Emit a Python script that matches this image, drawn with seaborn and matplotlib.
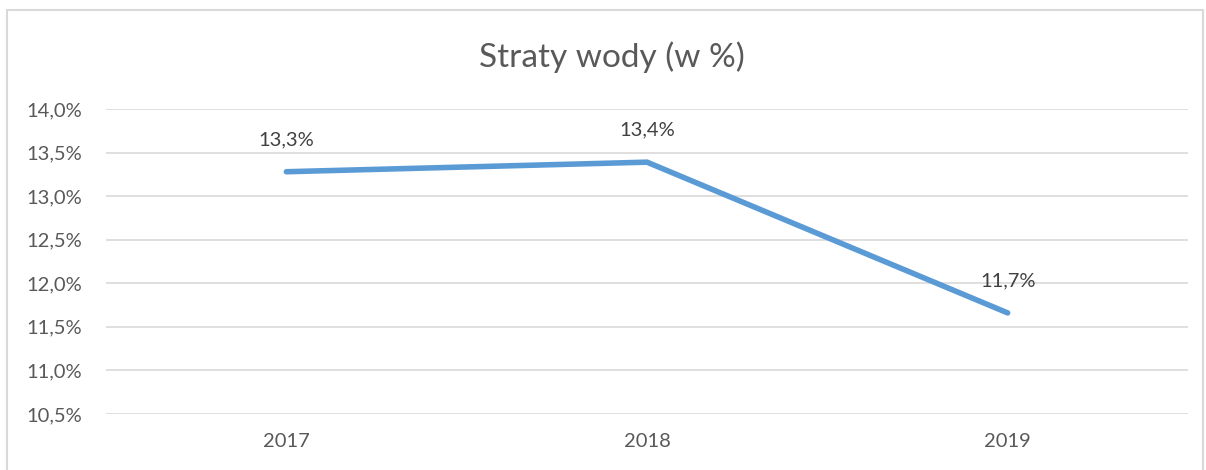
import matplotlib
matplotlib.use("Agg")
import matplotlib.pyplot as plt
import seaborn as sns
import pandas as pd
from matplotlib.patches import Rectangle

years = ["2017", "2018", "2019"]
losses = [13.28, 13.39, 11.66]
labels = ["13,3%", "13,4%", "11,7%"]
yticks = [10.5, 11.0, 11.5, 12.0, 12.5, 13.0, 13.5, 14.0]
ytick_labels = ["10,5%", "11,0%", "11,5%", "12,0%", "12,5%", "13,0%", "13,5%", "14,0%"]
title = "Straty wody (w %)"

sns.set_theme(style="white")
plt.rcParams['font.family'] = ['Lato', 'DejaVu Sans']

df = pd.DataFrame({"year": years, "loss": losses})

fig = plt.figure(figsize=(12.06, 4.70), dpi=100)
W, H = 1206, 470
ax = fig.add_axes([106 / W, 1 - 414 / H, (1188 - 106) / W, (414 - 109) / H])

sns.lineplot(data=df, x="year", y="loss", ax=ax, color="#5B9BD5", linewidth=4,
             solid_capstyle="round", solid_joinstyle="miter", sort=False)

ax.set_xlim(-0.5, 2.5)
ax.set_ylim(10.5, 14.0)
ax.set_yticks(yticks)
ax.set_yticklabels(ytick_labels)
ax.yaxis.grid(True, color="#D9D9D9", linewidth=1.2)
ax.set_axisbelow(True)
for s in ax.spines.values():
    s.set_visible(False)
ax.tick_params(axis="both", length=0, labelsize=14.5, labelcolor="#595959")
ax.tick_params(axis="y", pad=17)
ax.tick_params(axis="x", pad=14)
ax.set_xlabel("")
ax.set_ylabel("")

for i, (v, lab) in enumerate(zip(losses, labels)):
    ax.annotate(lab, (i, v), xytext=(0, 23), textcoords="offset points",
                ha="center", va="center", fontsize=14.5, color="#404040")

fig.text(612 / W, 1 - 57 / H, title, ha="center", va="center", fontsize=24, color="#595959")

fig.patches.append(Rectangle((7 / W, -0.1), (1203 - 7) / W, 1.1 - 10 / H,
                             transform=fig.transFigure, fill=False,
                             edgecolor="#D9D9D9", linewidth=1.5))

fig.savefig("out.png", dpi=100)
